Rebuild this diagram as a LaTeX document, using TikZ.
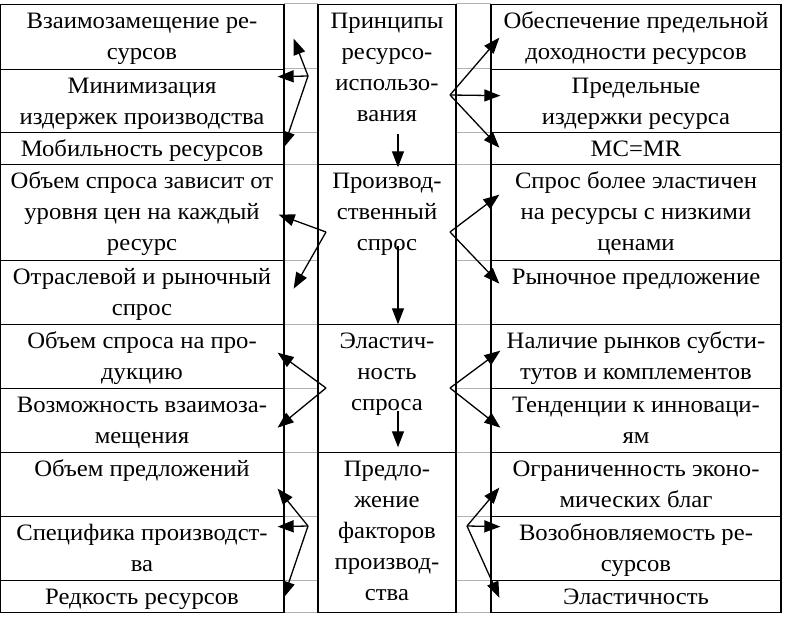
\documentclass[tikz,border=0pt]{standalone}
\usepackage{fontspec}
\setmainfont{Liberation Serif}[FakeStretch=1.05]
\usetikzlibrary{arrows.meta,calc}
\tikzset{
  box/.style={draw, line width=1.3pt, inner sep=0pt, anchor=north, font=\fontsize{23.5}{31}\selectfont},
  arr/.style={line width=1.3pt, -{Triangle[length=16pt,width=12pt,fill=black]}},
  gridl/.style={draw=black!30, line width=1pt}
}
\newcommand\bx[6]{\node[box] (#1) at ({(#2+#4)/2},#3) {\parbox[t][\dimexpr#5pt-#3pt\relax][t]{\dimexpr#4pt-#2pt\relax}{\centering\rule{0pt}{24pt}#6\par}};}
\begin{document}
\begin{tikzpicture}[x=1pt,y=-1pt]
\useasboundingbox (0,0) rectangle (785,626);
% faint table grid lines in the gaps
\foreach \yy in {4,69,132,164,260,324,388,452,516,580,612}{
  \draw[gridl] (284,\yy) -- (318,\yy);
  \draw[gridl] (456,\yy) -- (491,\yy);
}
% left column
\bx{L11}{0}{4}{284}{69}{Взаимозамещение ре-\\сурсов}
\bx{L12}{0}{69}{284}{132}{Минимизация\\издержек производства}
\bx{L13}{0}{132}{284}{164}{Мобильность ресурсов}
\bx{L21}{0}{164}{284}{260}{Объем спроса зависит от\\уровня цен на каждый\\ресурс}
\bx{L22}{0}{260}{284}{324}{Отраслевой и рыночный\\спрос}
\bx{L31}{0}{324}{284}{388}{Объем спроса на про-\\дукцию}
\bx{L32}{0}{388}{284}{452}{Возможность взаимоза-\\мещения}
\bx{L41}{0}{452}{284}{516}{Объем предложений}
\bx{L42}{0}{516}{284}{580}{Специфика производст-\\ва}
\bx{L43}{0}{580}{284}{612}{Редкость ресурсов}
% centre column
\bx{C1}{318}{4}{456}{164}{Принципы\\ресурсо-\\использо-\\вания}
\bx{C2}{318}{164}{456}{324}{Производ-\\ственный\\спрос}
\bx{C3}{318}{324}{456}{452}{Эластич-\\ность\\спроса}
\bx{C4}{318}{452}{456}{612}{Предло-\\жение\\факторов\\производ-\\ства}
% right column
\bx{R11}{491}{4}{781}{69}{Обеспечение предельной\\доходности ресурсов}
\bx{R12}{491}{69}{781}{132}{Предельные\\издержки ресурса}
\bx{R13}{491}{132}{781}{164}{MC=MR}
\bx{R21}{491}{164}{781}{260}{Спрос более эластичен\\на ресурсы с низкими\\ценами}
\bx{R22}{491}{260}{781}{324}{Рыночное предложение}
\bx{R31}{491}{324}{781}{388}{Наличие рынков субсти-\\тутов и комплементов}
\bx{R32}{491}{388}{781}{452}{Тенденции к инноваци-\\ям}
\bx{R41}{491}{452}{781}{516}{Ограниченность эконо-\\мических благ}
\bx{R42}{491}{516}{781}{580}{Возобновляемость ре-\\сурсов}
\bx{R43}{491}{580}{781}{612}{Эластичность}
% fork points
\coordinate (F1L) at (308,76);
\coordinate (F1R) at (450,95);
\coordinate (F2L) at (326,232);
\coordinate (F2R) at (450,232);
\coordinate (F3L) at (326,388);
\coordinate (F3R) at (450,388);
\coordinate (F4L) at (308,526);
\coordinate (F4R) at (467,526);
% group 1
\draw[arr] (F1L) -- ($(L11.east)+(9,1.5)$);
\draw[arr] (F1L) -- ($(L12.east)+(-7,-24.5)$);
\draw[arr] (F1L) -- ($(L13.east)+(-1,-1)$);
\draw[arr] (F1R) -- ($(R11.west)+(9,0.5)$);
\draw[arr] (F1R) -- ($(R12.west)+(10,-5.5)$);
\draw[arr] (F1R) -- ($(R13.west)+(9,-1)$);
% group 2
\draw[arr] (F2L) -- ($(L21.east)+(-6,2)$);
\draw[arr] (F2L) -- ($(L22.east)+(9,-4)$);
\draw[arr] (F2R) -- ($(R21.west)+(9,-18)$);
\draw[arr] (F2R) -- ($(R22.west)+(9,-9)$);
% group 3
\draw[arr] (F3L) -- ($(L31.east)+(-7,-4)$);
\draw[arr] (F3L) -- ($(L32.east)+(-7,7)$);
\draw[arr] (F3R) -- ($(R31.west)+(10,-6)$);
\draw[arr] (F3R) -- ($(R32.west)+(10,7)$);
% group 4
\draw[arr] (F4L) -- ($(L41.east)+(-7,4)$);
\draw[arr] (F4L) -- ($(L42.east)+(-7,-22)$);
\draw[arr] (F4L) -- ($(L43.east)+(-1,1)$);
\draw[arr] (F4R) -- ($(R41.west)+(9,3)$);
\draw[arr] (F4R) -- ($(R42.west)+(10,-22)$);
\draw[arr] (F4R) -- ($(R43.west)+(9,1)$);
% vertical arrows in the centre column
\draw[arr] ($(C1.south)+(11,-31)$) -- ($(C1.south)+(11,2)$);
\draw[arr] ($(C2.south)+(11,-79)$) -- ($(C2.south)+(11,-1)$);
\draw[arr] ($(C3.south)+(11,-42)$) -- ($(C3.south)+(11,-6)$);
\end{tikzpicture}
\end{document}
